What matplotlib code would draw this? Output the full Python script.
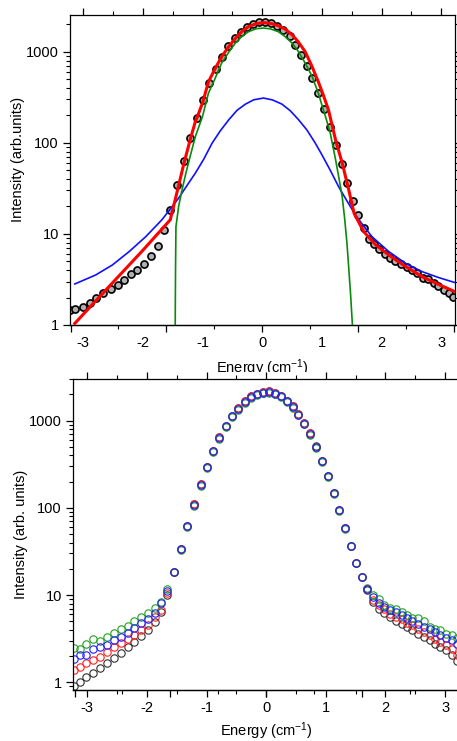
import matplotlib
matplotlib.use("Agg")
import matplotlib.pyplot as plt
from matplotlib.patches import Rectangle
from matplotlib.ticker import LogLocator, FixedLocator, NullFormatter

plt.rcParams['font.family'] = ['Liberation Sans', 'DejaVu Sans']
plt.rcParams['mathtext.default'] = 'regular'

# ---------------- top panel data ----------------
top_x = [-3.22, -3.13, -3.00, -2.89, -2.78, -2.66, -2.54, -2.42, -2.31, -2.20, -2.09, -1.98,
         -1.86, -1.75, -1.64, -1.54, -1.42, -1.31, -1.21, -1.09, -0.99, -0.89, -0.78, -0.68,
         -0.57, -0.46, -0.36, -0.26, -0.16, -0.06, 0.05, 0.15, 0.25, 0.35, 0.46, 0.55, 0.65,
         0.75, 0.84, 0.93, 1.03, 1.13, 1.23, 1.33, 1.42, 1.52, 1.61, 1.70, 1.79, 1.88, 1.96,
         2.06, 2.14, 2.23, 2.33, 2.42, 2.51, 2.60, 2.69, 2.78, 2.87, 2.95, 3.04, 3.13, 3.20]
top_y = [1.45, 1.49, 1.59, 1.73, 1.98, 2.25, 2.47, 2.75, 3.1, 3.6, 4.05, 4.7,
         5.7, 7.3, 10.9, 18.4, 34.5, 63, 112, 186, 296, 453, 646, 875,
         1143, 1415, 1660, 1860, 2030, 2120, 2140, 2070, 1930, 1740, 1480, 1195, 927,
         702, 513, 352, 234, 151, 94, 58, 36.6, 23.2, 16.2, 11.5, 8.9, 7.8, 6.8,
         6.03, 5.4, 5.1, 4.68, 4.37, 4.02, 3.7, 3.31, 3.18, 2.92, 2.68, 2.42, 2.27, 2.01]

# total fit (red)
fit_x = [-3.14, -2.5, -2.0, -1.54, -1.42, -1.31, -1.20, -1.12, -1.06, -1.0, -0.9, -0.79,
         -0.675, -0.56, -0.45, -0.34, -0.23, -0.1, 0.02, 0.15, 0.27, 0.39, 0.5, 0.61,
         0.72, 0.83, 0.94, 1.02, 1.11, 1.23, 1.34, 1.45, 1.54, 1.70, 1.9, 2.12,
         2.4, 2.68, 2.95, 3.23]
fit_y = [1.04, 2.94, 6.6, 14.3, 30, 60, 112, 171, 215, 273, 468, 650,
         890, 1140, 1400, 1670, 1885, 2030, 2090, 2040, 1930, 1760, 1540, 1270,
         1000, 700, 468, 340, 230, 107, 60, 30.4, 16.8, 10.6, 7.6, 5.87,
         4.4, 3.39, 2.8, 2.32]

# Lorentzian-like component (blue)
lor_x = [-3.14, -2.79, -2.51, -2.23, -1.95, -1.68, -1.40, -1.26, -1.12, -0.98, -0.84, -0.70,
         -0.56, -0.42, -0.28, -0.14, 0.02, 0.17, 0.33, 0.47, 0.61, 0.75, 0.89, 1.0,
         1.14, 1.28, 1.42, 1.56, 1.70, 1.84, 2.12, 2.40, 2.68, 2.96, 3.23]
lor_y = [2.82, 3.54, 4.56, 6.39, 9.34, 14.3, 24.7, 34, 46.5, 66, 99, 136,
         179, 228, 266, 297, 310, 296, 266, 225, 179, 138, 99, 74,
         50, 33, 23, 16.2, 12.2, 9.3, 6.4, 4.76, 3.85, 3.31, 2.92]

# Gaussian-like component (green)
gau_x = [-1.46, -1.456, -1.452, -1.445, -1.40, -1.35, -1.28, -1.2, -1.12, -1.0, -0.9, -0.8,
         -0.68, -0.56, -0.45, -0.34, -0.23, -0.1, 0.02, 0.14, 0.27, 0.38, 0.5, 0.6,
         0.72, 0.83, 0.94, 1.0, 1.07, 1.14, 1.23, 1.28, 1.34, 1.38, 1.42, 1.45, 1.48,
         1.51, 1.53]
gau_y = [0.3, 1.5, 4, 12, 20, 29, 46, 74, 117, 195, 352, 490,
         751, 990, 1245, 1470, 1660, 1790, 1820, 1780, 1660, 1470, 1245, 1018,
         751, 546, 352, 260, 185, 128, 65, 43, 25.7, 15, 7.9, 4.2, 2.2,
         1.04, 0.3]

# ---------------- bottom panel data ----------------
bot_x = [-3.23, -3.13, -3.02, -2.91, -2.79, -2.67, -2.55, -2.44, -2.32, -2.21, -2.10, -1.98,
         -1.87, -1.77, -1.66, -1.54, -1.43, -1.32, -1.21, -1.10, -0.99, -0.89, -0.79, -0.68,
         -0.58, -0.47, -0.36, -0.26, -0.16, -0.06, 0.05, 0.15, 0.25, 0.35, 0.45, 0.54, 0.63,
         0.74, 0.84, 0.93, 1.03, 1.13, 1.22, 1.32, 1.42, 1.51, 1.60, 1.69, 1.79, 1.89, 1.98,
         2.08, 2.17, 2.27, 2.36, 2.45, 2.55, 2.65, 2.74, 2.83, 2.92, 3.02, 3.12, 3.20]
black_y = [0.91, 1.0, 1.14, 1.27, 1.45, 1.68, 1.88, 2.15, 2.52, 2.92, 3.4, 3.98,
           4.95, 6.35, 9.95, 18.2, 33.6, 62.5, 110, 188, 297, 452, 645, 875,
           1140, 1395, 1665, 1900, 2045, 2130, 2170, 2080, 1940, 1695, 1460, 1190, 940,
           715, 505, 346, 232, 149, 95, 58.5, 36.8, 23.6, 16.0, 11.3, 8.3, 6.9, 6.3,
           5.6, 5.0, 4.7, 4.3, 3.95, 3.6, 3.3, 3.03, 2.77, 2.54, 2.33, 2.04, 1.74]
red_y = [1.38, 1.49, 1.65, 1.8, 1.97, 2.24, 2.52, 2.8, 3.11, 3.49, 3.98, 4.54,
         5.56, 6.75, 10.5, 18.3, 33.5, 62.3, 110, 187, 296, 450, 643, 872,
         1135, 1390, 1660, 1895, 2040, 2125, 2165, 2075, 1935, 1690, 1455, 1185, 936,
         712, 503, 345, 231, 149, 94.5, 58.3, 36.7, 23.5, 16.1, 11.6, 8.7, 7.6, 6.9,
         6.1, 5.6, 5.3, 4.8, 4.5, 4.1, 3.8, 3.46, 3.17, 2.9, 2.66, 2.43, 2.07]
blue_y = [1.84, 2.06, 2.06, 2.39, 2.52, 2.68, 3.05, 3.33, 3.7, 4.16, 4.75, 5.28,
          6.18, 8.05, 11.2, 18.4, 33.3, 62, 109, 185, 292, 446, 638, 863,
          1122, 1373, 1638, 1870, 2010, 2095, 2133, 2043, 1906, 1667, 1436, 1172, 925,
          705, 499, 342, 230, 148, 94, 58, 36.6, 23.5, 16.1, 11.8, 9.5, 8.2, 7.3,
          6.7, 6.4, 5.9, 5.4, 5.0, 4.7, 4.3, 4.1, 3.8, 3.46, 3.22, 3.03, 2.77]
green_y = [2.45, 2.39, 2.75, 3.11, 2.98, 3.33, 3.7, 4.05, 4.46, 5.05, 5.65, 6.18,
           7.06, 8.4, 11.7, 18.6, 32.5, 60.5, 106, 180, 284, 434, 622, 842,
           1095, 1340, 1600, 1825, 1965, 2050, 2085, 2000, 1865, 1630, 1405, 1145, 903,
           688, 487, 334, 225, 145, 92, 57, 36.2, 23.3, 16.2, 12.1, 10.1, 9.1, 7.6,
           7.2, 6.9, 6.4, 5.9, 5.5, 5.4, 5.0, 4.3, 4.1, 3.95, 3.6, 3.46, 3.22]

# tick positions / labels
x_tick_vals = [-3, -2, -1, 0, 1, 2, 3]
x_tick_labels = ['-3', '-2', '-1', '0', '1', '2', '3']
x_minor_vals = [-2.5, -1.5, -0.5, 0.5, 1.5, 2.5]
y_tick_vals = [1, 10, 100, 1000]
y_tick_labels = ['1', '10', '100', '1000']
# extra bottom-spine ticks on a different grid (as in the original figure)
odd_major = [-3.21, -1.61, 0.0, 1.61, 3.22]
odd_minor = [-2.415, -0.805, 0.805, 2.415]

# ---------------- figure ----------------
W, H = 457, 741
fig = plt.figure(figsize=(W / 100, H / 100), dpi=100)

def px_axes(l, t, r, b):
    return fig.add_axes([l / W, 1 - b / H, (r - l) / W, (b - t) / H])

FS = 10.5

def style(ax):
    ax.set_yscale('log')
    ax.tick_params(which='both', direction='out', top=True, right=True,
                   labelsize=FS, pad=3)
    ax.tick_params(which='major', length=5, width=0.9)
    ax.tick_params(which='minor', length=3, width=0.8)
    ax.set_yticks(y_tick_vals)
    ax.set_yticklabels(y_tick_labels)
    ax.yaxis.set_minor_locator(LogLocator(base=10, subs=range(2, 10), numticks=20))
    ax.yaxis.set_minor_formatter(NullFormatter())
    ax.set_xticks(x_tick_vals)
    ax.set_xticklabels(x_tick_labels)
    ax.xaxis.set_minor_locator(FixedLocator(x_minor_vals))
    for s in ax.spines.values():
        s.set_linewidth(0.9)

def odd_ticks(ax):
    sec = ax.secondary_xaxis('bottom')
    sec.set_xticks(odd_major)
    sec.set_xticklabels([''] * len(odd_major))
    sec.xaxis.set_minor_locator(FixedLocator(odd_minor))
    sec.tick_params(which='major', direction='out', length=5, width=0.9)
    sec.tick_params(which='minor', direction='out', length=3, width=0.8)
    sec.spines['bottom'].set_linewidth(0.9)

# ---- top panel ----
ax1 = px_axes(70, 15, 455, 325)
ax1.set_zorder(0)
ax1.plot(top_x, top_y, 'o', ms=5.1, mfc='#b0b0b0', mec='black', mew=1.2, zorder=2)
ax1.plot(lor_x, lor_y, color='#1010ff', lw=1.2, zorder=3)
ax1.plot(gau_x, gau_y, color='#0a8a0a', lw=1.2, zorder=3)
ax1.plot(fit_x, fit_y, color='#ff0000', lw=2.2, zorder=4)
style(ax1)
ax1.set_xlim(-3.22, 3.23)
ax1.set_ylim(1, 2530)
ax1.tick_params(axis='x', which='both', bottom=False)
odd_ticks(ax1)
ax1.set_ylabel('Intensity (arb.units)', fontsize=FS)
ax1.yaxis.set_label_coords(-0.117, 0.535)
ax1.set_xlabel('Energy (cm$^{-1}$)', fontsize=FS)
ax1.xaxis.set_label_coords(0.5, -0.106)

# white strip: the lower panel covers the descenders of the upper x label
fig.patches.append(Rectangle((0, 1 - 379 / H), 1, 7 / H, transform=fig.transFigure,
                             facecolor='white', edgecolor='none', zorder=0.5))

# ---- bottom panel ----
ax2 = px_axes(73, 379, 460, 690)
ax2.set_zorder(1)
ax2.plot(bot_x, black_y, 'o', ms=5.3, mfc='none', mec='#303030', mew=0.8)
ax2.plot(bot_x, red_y, 'o', ms=5.3, mfc='none', mec='#ff2020', mew=0.8)
ax2.plot(bot_x, green_y, 'o', ms=5.3, mfc='none', mec='#20a020', mew=0.8)
ax2.plot(bot_x, blue_y, 'o', ms=5.3, mfc='none', mec='#2020ff', mew=0.8)
style(ax2)
ax2.set_xlim(-3.24, 3.25)
ax2.set_ylim(0.816, 3000)
odd_ticks(ax2)
ax2.set_ylabel('Intensity (arb. units)', fontsize=FS)
ax2.yaxis.set_label_coords(-0.116, 0.5)
ax2.set_xlabel('Energy (cm$^{-1}$)', fontsize=FS)
ax2.xaxis.set_label_coords(0.5, -0.098)

fig.savefig('out.png', dpi=100, facecolor='white')
